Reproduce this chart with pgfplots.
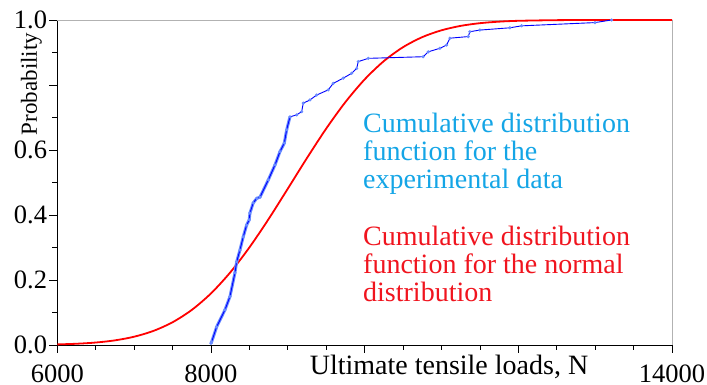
\documentclass[border=0pt]{standalone}
\usepackage{fontspec}
\setmainfont{Liberation Serif}
\usepackage{pgfplots}
\usepackage{pgfplotstable}
\pgfplotsset{compat=1.18}
\definecolor{markblue}{RGB}{105,140,255}
\definecolor{txtcyan}{RGB}{20,165,230}
\definecolor{txtred}{RGB}{240,20,30}

\pgfplotstableread{
x y
8000 0.005
8009 0.010
8074 0.056
8182 0.108
8247 0.149
8312 0.222
8334 0.256
8377 0.292
8420 0.333
8464 0.369
8498 0.385
8507 0.406
8550 0.437
8595 0.451
8638 0.455
8746 0.508
8833 0.554
8898 0.595
8954 0.621
8985 0.662
9028 0.702
}\densedata

\pgfplotstableread{
x y
8000 0.005
8009 0.010
8074 0.056
8182 0.108
8247 0.149
8312 0.222
8334 0.256
8377 0.292
8420 0.333
8464 0.369
8498 0.385
8507 0.406
8550 0.437
8595 0.451
8638 0.455
8746 0.508
8833 0.554
8898 0.595
8954 0.621
8985 0.662
9028 0.702
9115 0.708
9180 0.718
9201 0.744
9288 0.754
9375 0.769
9526 0.785
9591 0.805
9721 0.821
9831 0.836
9896 0.851
9917 0.872
10047 0.882
10762 0.887
10827 0.902
10980 0.913
11067 0.923
11110 0.944
11348 0.949
11370 0.964
11500 0.969
11890 0.976
12043 0.982
12997 0.992
13214 1.000
}\expdata

\pgfplotstableread{
x y
6000 0.00184
6250 0.00383
6500 0.00757
6750 0.01426
7000 0.02547
7250 0.04326
7500 0.06996
7750 0.1079
8000 0.1587
8250 0.2231
8500 0.3002
8750 0.3875
9000 0.4810
9250 0.5755
9500 0.6659
9750 0.7475
10000 0.8172
10250 0.8735
10500 0.9164
10750 0.9473
11000 0.9683
11250 0.9819
11500 0.9902
11750 0.9949
12000 0.9975
12500 0.9995
13000 0.9999
14000 1.0000
}\normdata

\begin{document}
\begin{tikzpicture}[x=1pt,y=1pt]
\useasboundingbox (0,0) rectangle (707,385);
\begin{axis}[
  at={(57.3pt,40pt)}, anchor=south west,
  scale only axis, width=614.7pt, height=325pt,
  xmin=6000, xmax=14000, ymin=0, ymax=1,
  clip=false,
  scaled x ticks=false, scaled y ticks=false,
  axis x line*=bottom, axis y line*=left,
  axis line style={black, line width=0.9pt},
  xtick={6000,8000,10000,12000,14000},
  xticklabels={6000,8000,,,14000},
  ytick={0,0.2,0.4,0.6,0.8,1.0},
  yticklabels={0.0,0.2,0.4,0.6,,1.0},
  minor x tick num=3, minor y tick num=1,
  tick align=outside,
  major tick length=8pt, minor tick length=5pt,
  tick style={black, line width=0.8pt},
  /pgf/number format/assume math mode=true,
  ticklabel style={font=\fontsize{26.5}{30}\selectfont},
  xticklabel style={inner sep=0pt, anchor=north, yshift=-12pt},
  yticklabel style={inner sep=0pt, anchor=east, xshift=-2pt},
]
\draw[gray!60, line width=0.9pt] (rel axis cs:0,1) -- (rel axis cs:1,1) -- (rel axis cs:1,0);
\addplot[red, line width=1.8pt, smooth] table {\normdata};
\addplot[markblue, line width=3pt] table {\densedata};
\addplot[blue, line width=0.9pt, mark=*, mark size=1.1pt, mark options={fill=markblue, draw=markblue}] table {\expdata};
\end{axis}
\node[rotate=90, font=\fontsize{23}{26}\selectfont, inner sep=0pt] at (31.5,301) {Probability};
\node[anchor=base, font=\fontsize{28}{30}\selectfont, inner sep=0pt] at (449,10) {Ultimate tensile loads, N};
\begin{scope}[every node/.style={anchor=base west, inner sep=0pt, font=\fontsize{28}{30}\selectfont}]
\node[text=txtcyan] at (363,252) {Cumulative distribution};
\node[text=txtcyan] at (363,224) {function for the};
\node[text=txtcyan] at (363,196) {experimental data};
\node[text=txtred] at (363,139) {Cumulative distribution};
\node[text=txtred] at (363,111) {function for the normal};
\node[text=txtred] at (363,83) {distribution};
\end{scope}
\end{tikzpicture}
\end{document}
